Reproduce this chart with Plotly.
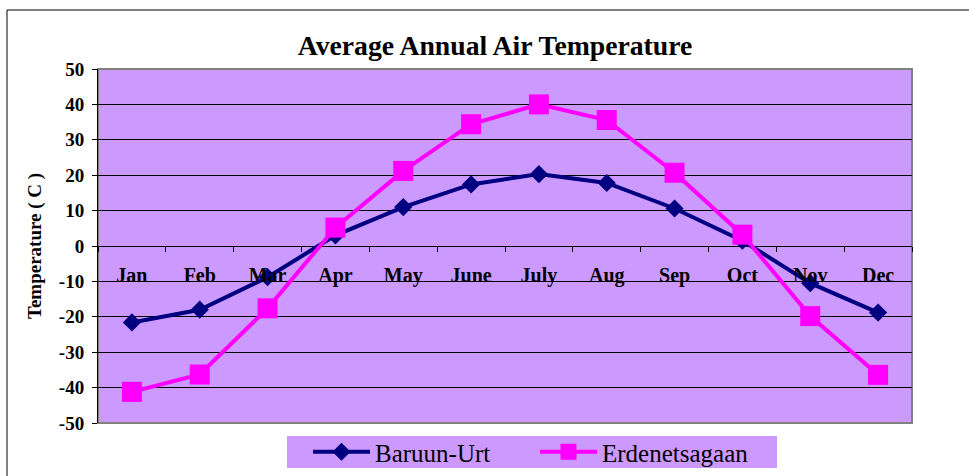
"""
Average annual air temperature – Baruun-Urt vs Erdenetsagaan
"""
import plotly.graph_objects as go

# ── Data ─────────────────────────────────────────────────────────────────
MONTHS = ["Jan", "Feb", "Mar", "Apr", "May", "June",
          "July", "Aug", "Sep", "Oct", "Nov", "Dec"]
BARUUN_URT = [-21.6, -18.0, -8.8, 3.0, 11.0, 17.4,
              20.3, 17.8, 10.6, 1.5, -10.5, -18.8]
ERDENETSAGAAN = [-41.2, -36.3, -17.6, 5.2, 21.2, 34.4,
                 40.0, 35.6, 20.7, 3.2, -19.8, -36.4]
Y_TICKS = [50, 40, 30, 20, 10, 0, -10, -20, -30, -40, -50]
Y_LABELS = ["50", "40", "30", "20", "10", "0",
            "-10", "-20", "-30", "-40", "-50"]

SERIF = "Times New Roman, Liberation Serif, serif"
PLOT_BG = "#CC99FF"

# plot area in pixels: x 98..912, y 69..423 of a 969x476 page
W, H = 969, 476
L, R, T, B = 98, 57, 69, 53
PW, PH = W - L - R, H - T - B


def px_x(x):
    return (x - L) / PW


def px_y(y):
    return (H - B - y) / PH


fig = go.Figure()

fig.add_trace(go.Scatter(
    x=MONTHS, y=BARUUN_URT,
    mode="lines+markers",
    name="Baruun-Urt",
    line=dict(color="#000080", width=4),
    marker=dict(symbol="diamond", size=14, color="#000080"),
))

fig.add_trace(go.Scatter(
    x=MONTHS, y=ERDENETSAGAAN,
    mode="lines+markers",
    name="Erdenetsagaan",
    line=dict(color="#FF00FF", width=4),
    marker=dict(symbol="square", size=20, color="#FF00FF"),
))

# outer chart border
fig.add_shape(
    type="rect", xref="paper", yref="paper",
    x0=px_x(7), x1=px_x(990), y0=px_y(500), y1=px_y(10),
    line=dict(color="black", width=1), fillcolor="rgba(0,0,0,0)",
    layer="below",
)
# plot area frame (grey top/right)
fig.add_shape(
    type="rect", xref="paper", yref="paper",
    x0=0, x1=1, y0=0, y1=1,
    line=dict(color="#808080", width=2), fillcolor="rgba(0,0,0,0)",
    layer="below",
)
# legend box
fig.add_shape(
    type="rect", xref="paper", yref="paper",
    x0=px_x(287), x1=px_x(777), y0=px_y(468), y1=px_y(436),
    line=dict(width=0), fillcolor=PLOT_BG,
    layer="below",
)

# y-axis title
fig.add_annotation(
    text="<b>Temperature ( C )</b>",
    xref="paper", yref="paper",
    x=px_x(35), y=px_y(246), textangle=-90,
    xanchor="center", yanchor="middle",
    showarrow=False,
    font=dict(family=SERIF, size=19, color="black"),
)

fig.update_layout(
    width=W, height=H,
    margin=dict(l=L, r=R, t=T, b=B, autoexpand=False),
    paper_bgcolor="white",
    plot_bgcolor=PLOT_BG,
    title=dict(
        text="<b>Average Annual Air Temperature</b>",
        x=495 / W, xanchor="center", xref="container",
        y=1 - 45 / H, yanchor="middle", yref="container",
        font=dict(family=SERIF, size=27.7, color="black"),
    ),
    font=dict(family=SERIF, color="black"),
    showlegend=True,
    legend=dict(
        orientation="h",
        x=px_x(308), xanchor="left",
        y=px_y(429), yanchor="top",
        bgcolor="rgba(0,0,0,0)",
        borderwidth=0,
        font=dict(family=SERIF, size=25, color="black"),
        entrywidth=155, entrywidthmode="pixels",
        itemwidth=57,
    ),
)

fig.update_xaxes(
    type="category",
    range=[-0.5, len(MONTHS) - 0.5],
    anchor="free", position=0.5,
    showline=False, showgrid=False, zeroline=False,
    ticks="outside", ticklen=5, tickcolor="black", tickwidth=1,
    tickson="boundaries",
    ticklabelstandoff=15,
    tickfont=dict(family=SERIF, size=20, color="black", weight="bold"),
)
fig.update_yaxes(
    range=[-50, 50],
    tickmode="array", tickvals=Y_TICKS, ticktext=Y_LABELS,
    showline=True, linecolor="black", linewidth=1,
    ticks="outside", ticklen=5, tickcolor="black",
    ticklabelstandoff=4,
    showgrid=True, gridcolor="black", gridwidth=1,
    zeroline=True, zerolinecolor="black", zerolinewidth=1,
    tickfont=dict(family=SERIF, size=19, color="black", weight="bold"),
)

fig.write_html(
    "out.html",
    config={"displayModeBar": False},
    post_script="document.body.style.margin='0';",
)
